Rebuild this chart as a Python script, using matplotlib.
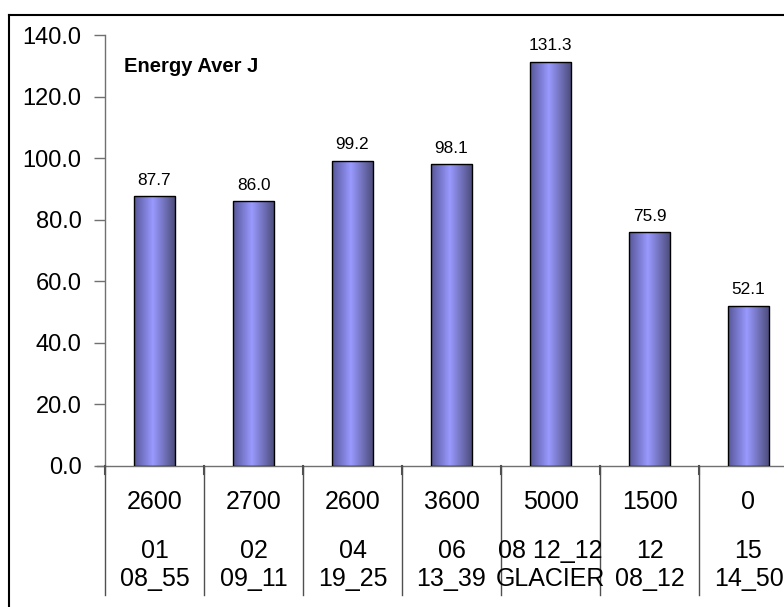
import numpy as np
import matplotlib
matplotlib.use("Agg")
import matplotlib.pyplot as plt
from matplotlib.colors import LinearSegmentedColormap
from matplotlib.lines import Line2D

plt.rcParams['font.family'] = ['Liberation Sans', 'DejaVu Sans']

# Data
altitudes = ["2600", "2700", "2600", "3600", "5000", "1500", "0"]
runs = ["01\n08_55", "02\n09_11", "04\n19_25", "06\n13_39",
        "08 12_12\nGLACIER", "12\n08_12", "15\n14_50"]
energy = [87.7, 86.0, 99.2, 98.1, 131.3, 75.9, 52.1]
title = "Energy Aver J"

W, H = 784, 607
fig = plt.figure(figsize=(W / 100, H / 100), dpi=100)

def fx(px):
    return px / W

def fy(py):
    return 1 - py / H

# plot area (extends past the right edge of the canvas)
ax_left, ax_top, ax_bottom, cat_w = 105, 35, 466, 99
n = len(energy)
ax = fig.add_axes([fx(ax_left), fy(ax_bottom), fx(n * cat_w), fy(ax_top) - fy(ax_bottom)])

x = np.arange(n)
bar_w = 0.42
bars = ax.bar(x, energy, width=bar_w, color='none', edgecolor='black',
              linewidth=1.0, zorder=3)

# cylinder-like horizontal shading inside each bar
shade = LinearSegmentedColormap.from_list(
    "shade",
    [(0.0, (0.34, 0.34, 0.60)), (0.45, (0.60, 0.60, 1.0)), (1.0, (0.29, 0.29, 0.47))])
grad = np.linspace(0, 1, 256)[None, :]
for b in bars:
    x0, w, h = b.get_x(), b.get_width(), b.get_height()
    im = ax.imshow(grad, cmap=shade, aspect='auto', extent=[x0, x0 + w, 0, h],
                   zorder=2, interpolation='bilinear')
    im.set_clip_path(b)

for xi, v in zip(x, energy):
    ax.annotate(f"{v:.1f}", (xi, v), xytext=(0, 6), textcoords='offset points',
                ha='center', va='bottom', fontsize=12.4, color='black')

ax.set_xlim(-0.5, n - 0.5)
ax.set_ylim(0, 140)
ax.set_yticks(np.arange(0, 141, 20))
ax.set_yticklabels([f"{t:.1f}" for t in np.arange(0, 141, 20)])
ax.tick_params(axis='y', direction='out', length=8, width=1, color='#707070',
               labelsize=17, pad=9)
ax.set_xticks([])
for s in ['top', 'right']:
    ax.spines[s].set_visible(False)
for s in ['left', 'bottom']:
    ax.spines[s].set_color('#707070')
    ax.spines[s].set_linewidth(1.0)
ax.spines['bottom'].set_bounds(-0.5 - 8 / cat_w, n - 0.5)

ax.text(fx(124), fy(57), title, transform=fig.transFigure, fontsize=14.5,
        fontweight='bold', ha='left', va='top')

# category separators and labels below the axis
for k in range(n + 1):
    xp = ax_left + k * cat_w
    fig.add_artist(Line2D([fx(xp), fx(xp)], [fy(ax_bottom), fy(595)],
                          color='#505050', linewidth=1.0))
    fig.add_artist(Line2D([fx(xp), fx(xp)], [fy(ax_bottom), fy(ax_bottom + 8)],
                          color='#505050', linewidth=1.5))
for k in range(n):
    xc = ax_left + (k + 0.5) * cat_w
    fig.text(fx(xc), fy(502), altitudes[k], ha='center', va='center', fontsize=18)
    fig.text(fx(xc), fy(565), runs[k], ha='center', va='center', fontsize=18,
             linespacing=1.25)

# chart-area frame
fig.add_artist(Line2D([fx(9), fx(9)], [fy(15), fy(H + 5)], color='black', linewidth=1.5))
fig.add_artist(Line2D([fx(9), fx(W + 5)], [fy(15), fy(15)], color='black', linewidth=1.5))

fig.savefig("out.png", dpi=100)
